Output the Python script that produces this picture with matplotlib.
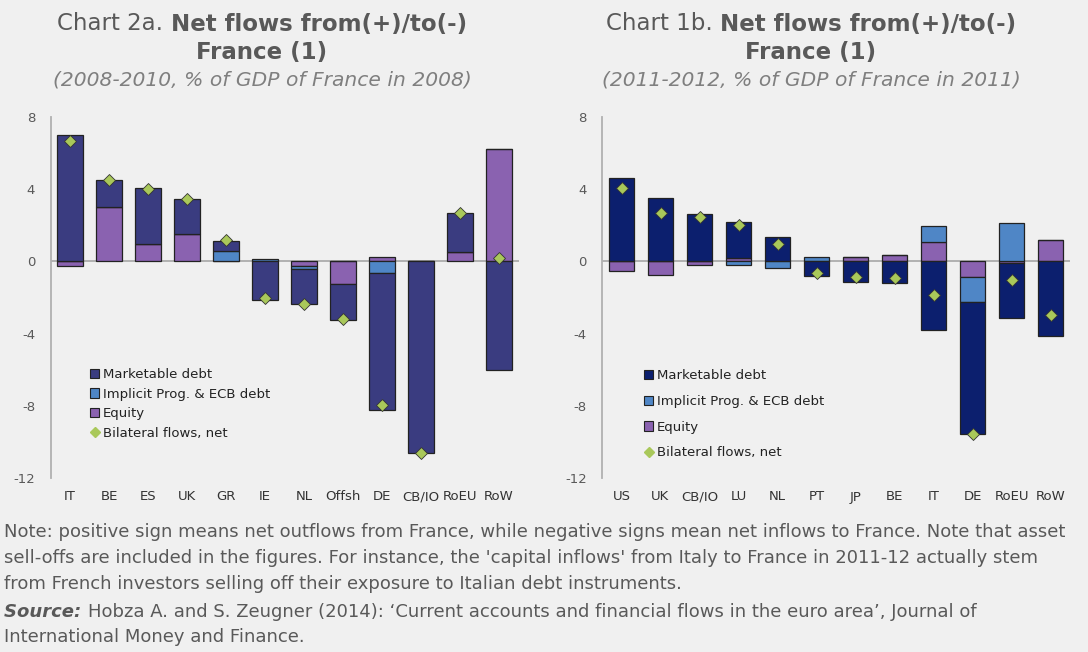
import matplotlib
matplotlib.use('Agg')
import matplotlib.pyplot as plt
from matplotlib.patches import Patch
from matplotlib.lines import Line2D
import numpy as np

# ---- data (% of GDP) ----
cats_a = ['IT', 'BE', 'ES', 'UK', 'GR', 'IE', 'NL', 'Offsh', 'DE', 'CB/IO', 'RoEU', 'RoW']
equity_a = [-0.26, 3.0, 0.98, 1.53, 0.0, 0.0, -0.26, -1.24, 0.24, 0.0, 0.52, 6.2]
implicit_a = [0.0, 0.0, 0.0, 0.0, 0.57, 0.15, -0.14, 0.0, -0.65, 0.0, 0.0, 0.0]
mkt_a = [6.98, 1.53, 3.08, 1.92, 0.55, -2.12, -1.95, -1.99, -7.6, -10.62, 2.18, -6.0]
net_a = [6.65, 4.52, 4.03, 3.45, 1.17, -2.03, -2.38, -3.21, -7.98, -10.6, 2.7, 0.2]

cats_b = ['US', 'UK', 'CB/IO', 'LU', 'NL', 'PT', 'JP', 'BE', 'IT', 'DE', 'RoEU', 'RoW']
equity_b = [-0.52, -0.76, -0.2, 0.17, 0.0, 0.0, 0.24, 0.33, 1.09, -0.89, -0.08, 1.2]
implicit_b = [0.0, 0.0, 0.0, -0.2, -0.35, 0.24, 0.0, 0.0, 0.85, -1.36, 2.14, 0.0]
mkt_b = [4.64, 3.51, 2.64, 1.99, 1.35, -0.83, -1.14, -1.22, -3.82, -7.3, -3.08, -4.14]
net_b = [4.08, 2.7, 2.46, 1.99, 0.98, -0.63, -0.87, -0.92, -1.85, -9.55, -1.02, -2.95]

yticks = [-12, -8, -4, 0, 4, 8]

BG = '#f0f0f0'
GREY_TXT = '#595959'
C_IMPL = '#4f86c6'
C_EQ = '#8a62b0'
C_NET = '#a9c85a'

plt.rcParams['font.family'] = ['DejaVu Sans']
W, H = 1088, 652
fig = plt.figure(figsize=(W / 100, H / 100), dpi=100, facecolor=BG)
renderer = fig.canvas.get_renderer()


def text_width(s, **kw):
    t = fig.text(0, 0, s, **kw)
    w = t.get_window_extent(renderer).width
    t.remove()
    return w


def mixed_line(pieces, x, y, ha='center'):
    # pieces: list of (string, kwargs); x, y in pixels from top-left
    widths = [text_width(s, **kw) for s, kw in pieces]
    total = sum(widths)
    x0 = x - total / 2 if ha == 'center' else x
    for (s, kw), w in zip(pieces, widths):
        fig.text(x0 / W, 1 - y / H, s, va='center', ha='left', **kw)
        x0 += w


def stacked_chart(rect, cats, equity, implicit, mkt, net, c_mkt, leg_xy, leg_space):
    ax = fig.add_axes(rect, facecolor=BG)
    idx = np.arange(len(cats))
    pos = np.zeros(len(cats))
    neg = np.zeros(len(cats))
    for vals, col in [(equity, C_EQ), (implicit, C_IMPL), (mkt, c_mkt)]:
        v = np.array(vals)
        bottom = np.where(v >= 0, pos, neg)
        ax.bar(idx, v, 0.66, bottom=bottom, color=col, edgecolor='#222222', linewidth=0.9, zorder=2)
        pos = pos + np.where(v >= 0, v, 0)
        neg = neg + np.where(v < 0, v, 0)
    ax.plot(idx, net, linestyle='none', marker='D', markersize=6, markerfacecolor=C_NET,
            markeredgecolor='#333333', markeredgewidth=0.6, zorder=3)
    ax.axhline(0, color='#a6a6a6', linewidth=1.2, zorder=1)
    ax.set_xlim(-0.5, len(cats) - 0.5)
    ax.set_ylim(-12, 8)
    ax.set_yticks(yticks)
    ax.set_yticklabels([str(t) for t in yticks])
    ax.set_xticks(idx)
    ax.set_xticklabels(cats)
    ax.tick_params(axis='y', length=0, pad=11, labelsize=9.5, labelcolor=GREY_TXT)
    ax.tick_params(axis='x', length=0, pad=9, labelsize=9.5, labelcolor='#333333')
    for s in ['top', 'right', 'bottom']:
        ax.spines[s].set_visible(False)
    ax.spines['left'].set_color('#b0b0b0')
    ax.spines['left'].set_linewidth(1.3)

    handles = [Patch(facecolor=c_mkt, edgecolor='#222222', linewidth=0.8),
               Patch(facecolor=C_IMPL, edgecolor='#222222', linewidth=0.8),
               Patch(facecolor=C_EQ, edgecolor='#222222', linewidth=0.8),
               Line2D([], [], linestyle='none', marker='D', markersize=5, markerfacecolor=C_NET,
                      markeredgecolor=C_NET)]
    labels = ['Marketable debt', 'Implicit Prog. & ECB debt', 'Equity', 'Bilateral flows, net']
    leg = ax.legend(handles, labels, loc='upper left',
                    bbox_to_anchor=(leg_xy[0] / W, 1 - leg_xy[1] / H), bbox_transform=fig.transFigure,
                    frameon=False, fontsize=9.5, handlelength=0.7, handleheight=0.7,
                    handletextpad=0.25, labelspacing=leg_space, borderpad=0, borderaxespad=0)
    for t in leg.get_texts():
        t.set_color('#222222')
    return ax


stacked_chart([50.5 / W, 1 - 478 / H, 468 / W, 361 / H], cats_a, equity_a, implicit_a, mkt_a, net_a,
              '#3a3c80', (90, 368), 0.5)
stacked_chart([602 / W, 1 - 478 / H, 468 / W, 361 / H], cats_b, equity_b, implicit_b, mkt_b, net_b,
              '#0c1f6e', (644, 369), 0.97)

# ---- titles ----
for cx, label, sub in [(262, 'Chart 2a. ', '(2008-2010, % of GDP of France in 2008)'),
                       (811, 'Chart 1b. ', '(2011-2012, % of GDP of France in 2011)')]:
    mixed_line([(label, dict(fontsize=16.5, color=GREY_TXT)),
                ('Net flows from(+)/to(-)', dict(fontsize=16.5, color=GREY_TXT, fontweight='bold'))],
               cx, 24)
    fig.text(cx / W, 1 - 52 / H, 'France (1)', ha='center', va='center', fontsize=16.5,
             color=GREY_TXT, fontweight='bold')
    fig.text(cx / W, 1 - 80 / H, sub, ha='center', va='center', fontsize=14.6,
             color='#7f7f7f', style='italic')

# ---- notes ----
note_lines = [
    'Note: positive sign means net outflows from France, while negative signs mean net inflows to France. Note that asset',
    "sell-offs are included in the figures. For instance, the 'capital inflows' from Italy to France in 2011-12 actually stem",
    'from French investors selling off their exposure to Italian debt instruments.',
]
for i, line in enumerate(note_lines):
    fig.text(4 / W, 1 - (532 + i * 26) / H, line, ha='left', va='center', fontsize=13, color=GREY_TXT)
mixed_line([('Source: ', dict(fontsize=13, color=GREY_TXT, fontweight='bold', style='italic')),
            ("Hobza A. and S. Zeugner (2014): \u2018Current accounts and financial flows in the euro area\u2019, Journal of",
             dict(fontsize=13, color=GREY_TXT))],
           4, 612, ha='left')
fig.text(4 / W, 1 - 637 / H, 'International Money and Finance.', ha='left', va='center',
         fontsize=13, color=GREY_TXT)

fig.savefig('out.png', dpi=100, facecolor=BG)
